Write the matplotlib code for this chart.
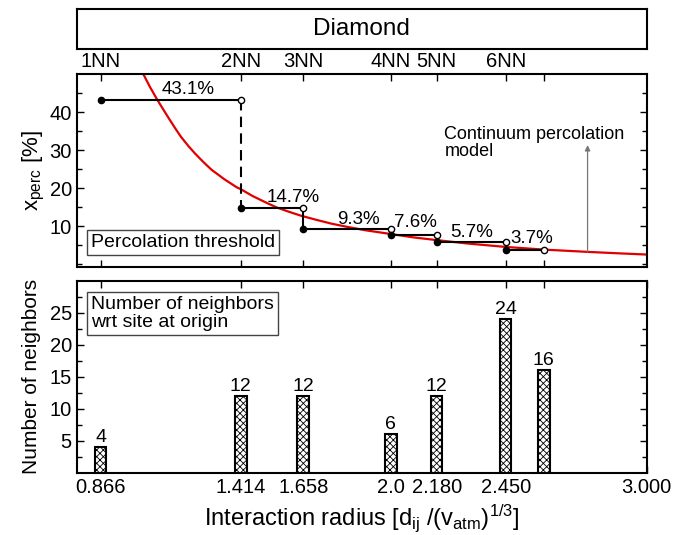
import matplotlib
matplotlib.use("Agg")
import matplotlib.pyplot as plt
from matplotlib.ticker import FixedLocator

plt.rcParams['font.family'] = ['Liberation Sans', 'DejaVu Sans']
plt.rcParams['mathtext.fontset'] = 'custom'
plt.rcParams['mathtext.rm'] = 'Liberation Sans'
plt.rcParams['mathtext.it'] = 'Liberation Sans'
plt.rcParams['mathtext.default'] = 'regular'
plt.rcParams['hatch.linewidth'] = 0.6

# ---------------- data ----------------
shell_r = [0.866, 1.414, 1.658, 2.0, 2.179, 2.449, 2.598]
shell_names = ['1NN', '2NN', '3NN', '4NN', '5NN', '6NN', '']
neighbors = [4, 12, 12, 6, 12, 24, 16]
x_perc = [43.1, 14.7, 9.3, 7.6, 5.7, 3.7]
perc_labels = ['43.1%', '14.7%', '9.3%', '7.6%', '5.7%', '3.7%']
perc_label_x = [1.208, 1.618, 1.872, 2.098, 2.317, 2.551]
perc_label_y = [45.8, 17.6, 11.8, 10.8, 8.4, 6.6]

curve_r = [1.02, 1.033, 1.06, 1.088, 1.11, 1.137, 1.16, 1.18, 1.21, 1.235,
           1.27, 1.30, 1.35, 1.398, 1.414, 1.46, 1.515, 1.554, 1.60, 1.65,
           1.711, 1.77, 1.828, 1.90, 2.0, 2.09, 2.179, 2.30, 2.449, 2.598,
           2.769, 2.88, 3.0]
curve_y = [51.5, 50.0, 46.5, 43.2, 40.8, 37.9, 35.5, 33.5, 31.0, 29.1,
           26.7, 24.8, 22.3, 20.2, 19.7, 17.9, 16.1, 14.9, 13.8, 12.7,
           11.6, 10.6, 9.8, 8.9, 7.9, 7.0, 6.3, 5.4, 4.5, 3.8,
           3.2, 2.85, 2.5]

bottom_ticks = [0.866, 1.414, 1.658, 2.0, 2.180, 2.450, 2.598, 3.0]
bottom_labels = ['0.866', '1.414', '1.658', '2.0', '2.180', '2.450', '', '3.000']

XMIN, XMAX = 0.773, 3.0
W, H = 687, 535

fig = plt.figure(figsize=(W / 100, H / 100), dpi=100)

def rect(x0, y0, x1, y1):
    return [x0 / W, 1 - y1 / H, (x1 - x0) / W, (y1 - y0) / H]

# title box
axt = fig.add_axes(rect(76.7, 9.3, 646.7, 48.7))
axt.set_xticks([]); axt.set_yticks([])
for s in axt.spines.values():
    s.set_linewidth(1.5)
axt.text(0.5, 0.5, 'Diamond', ha='center', va='center', fontsize=17.5,
         transform=axt.transAxes)

ax1 = fig.add_axes(rect(76.7, 74, 646.7, 266.7))
ax2 = fig.add_axes(rect(76.7, 280.7, 646.7, 472.7))

for ax in (ax1, ax2):
    for s in ax.spines.values():
        s.set_linewidth(1.5)
    ax.set_xlim(XMIN, XMAX)
    ax.tick_params(which='both', direction='in', top=True, right=True,
                   labelsize=14.5, width=1.0)
    ax.tick_params(which='major', length=5)
    ax.tick_params(which='minor', length=3.5)

# top panel
ax1.set_ylim(-0.7, 50)
ax1.yaxis.set_major_locator(FixedLocator([10, 20, 30, 40]))
ax1.yaxis.set_minor_locator(FixedLocator([0, 5, 15, 25, 35, 45]))
ax1.set_xticks(shell_r)
ax1.set_xticklabels(shell_names)
ax1.tick_params(axis='x', labelbottom=False, labeltop=True, labelsize=14.5, pad=2)

ax1.plot(curve_r, curve_y, color='#e00000', lw=1.6, zorder=2)

for i, v in enumerate(x_perc):
    r0, r1 = shell_r[i], shell_r[i + 1]
    ax1.plot([r0, r1], [v, v], color='black', lw=1.5, zorder=3)
    ax1.plot([r0], [v], 'o', color='black', ms=4.5, zorder=4)
    ax1.plot([r1], [v], 'o', mfc='white', mec='black', mew=1.0, ms=4.5, zorder=4)
    if i + 1 < len(x_perc):
        if i == 0:
            ax1.plot([r1, r1], [v, x_perc[i + 1]], color='black', lw=1.5,
                     ls=(0, (5, 3)), zorder=3)
        else:
            ax1.plot([r1, r1], [v, x_perc[i + 1]], color='black', lw=1.5,
                     zorder=3)
    ax1.text(perc_label_x[i], perc_label_y[i], perc_labels[i], ha='center',
             va='center', fontsize=13.5, zorder=5)

ax1.annotate('', xy=(2.769, 31.3), xytext=(2.769, 3.2),
             arrowprops=dict(arrowstyle='-|>', color='#777777', lw=0.9,
                             mutation_scale=8, shrinkA=0, shrinkB=0))
ax1.text(2.21, 36.2, 'Continuum percolation\nmodel', ha='left', va='top',
         fontsize=13, linespacing=1.0)
ax1.text(0.025, 0.08, 'Percolation threshold', transform=ax1.transAxes,
         ha='left', va='bottom', fontsize=14,
         bbox=dict(boxstyle='square,pad=0.2', fc='white', ec='#444444', lw=1.0))
ax1.set_ylabel(r'$x_{perc}$ [%]', fontsize=16, labelpad=2)

# bottom panel
ax2.set_ylim(0, 30)
ax2.yaxis.set_major_locator(FixedLocator([5, 10, 15, 20, 25]))
ax2.yaxis.set_minor_locator(FixedLocator([2.5, 7.5, 12.5, 17.5, 22.5, 27.5]))
ax2.set_xticks(bottom_ticks)
ax2.set_xticklabels(bottom_labels)

ax2.bar(shell_r, neighbors, width=0.045, color='white', edgecolor='black',
        linewidth=1.5, hatch='xxxxx', zorder=3)
for r, n in zip(shell_r, neighbors):
    ax2.text(r, n + 0.2, str(n), ha='center', va='bottom', fontsize=14)

ax2.text(0.025, 0.92, 'Number of neighbors\nwrt site at origin',
         transform=ax2.transAxes, ha='left', va='top', fontsize=14,
         linespacing=1.05,
         bbox=dict(boxstyle='square,pad=0.2', fc='white', ec='#444444', lw=1.0))
ax2.set_ylabel('Number of neighbors', fontsize=15, labelpad=6)
ax2.set_xlabel(r'Interaction radius [d$_{ij}$ /(v$_{atm}$)$^{1/3}$]',
               fontsize=17, labelpad=4)

fig.savefig('out.png', dpi=100)
